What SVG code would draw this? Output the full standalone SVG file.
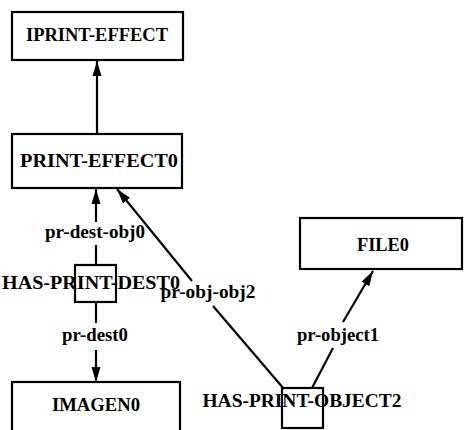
<svg xmlns="http://www.w3.org/2000/svg" width="464" height="430" viewBox="0 0 464 430">
<defs>
<style>
.box{fill:#fff;stroke:#000;stroke-width:2.2}
.sbox{fill:none;stroke:#000;stroke-width:2.2}
.t{font-family:"Liberation Serif","Times New Roman",serif;font-weight:bold;font-size:19px;fill:#000;text-anchor:middle}
.l{font-family:"Liberation Serif","Times New Roman",serif;font-weight:bold;font-size:18px;fill:#000;text-anchor:middle}
.e{stroke:#000;stroke-width:2.2;fill:none}
</style>
<marker id="ah" markerUnits="userSpaceOnUse" markerWidth="16" markerHeight="10" refX="15" refY="5" orient="auto">
<path d="M0,0.5 L15,5 L0,9.5 z" fill="#000"/>
</marker>
</defs>
<rect width="464" height="430" fill="#fff"/>
<g id="connectors">
<line class="e" x1="97" y1="134" x2="97" y2="61" marker-end="url(#ah)"/>
<line class="e" x1="96" y1="222" x2="96" y2="189" marker-end="url(#ah)"/>
<line class="e" x1="96" y1="245" x2="96" y2="265"/>
<line class="e" x1="96" y1="302" x2="96" y2="323"/>
<line class="e" x1="96" y1="350" x2="96" y2="382" marker-end="url(#ah)"/>
<line class="e" x1="192" y1="281" x2="117" y2="189" marker-end="url(#ah)"/>
<line class="e" x1="284" y1="389" x2="213" y2="306"/>
<line class="e" x1="312" y1="388" x2="333" y2="348"/>
<line class="e" x1="343" y1="322" x2="373" y2="271" marker-end="url(#ah)"/>
</g>
<g id="IPRINT-EFFECT">
<rect class="box" x="12" y="12" width="171" height="48"/>
<text class="t" x="97" y="41" textLength="142" lengthAdjust="spacingAndGlyphs">IPRINT-EFFECT</text>
</g>
<g id="PRINT-EFFECT0">
<rect class="box" x="12" y="134" width="170" height="54"/>
<text class="t" x="99" y="167" textLength="158" lengthAdjust="spacingAndGlyphs">PRINT-EFFECT0</text>
</g>
<g id="FILE0">
<rect class="box" x="300" y="218" width="162" height="51"/>
<text class="t" x="383" y="251" textLength="52" lengthAdjust="spacingAndGlyphs">FILE0</text>
</g>
<g id="IMAGEN0">
<rect class="box" x="12" y="382" width="168" height="60"/>
<text class="t" x="96" y="411" textLength="88" lengthAdjust="spacingAndGlyphs">IMAGEN0</text>
</g>
<g id="HAS-PRINT-DEST0">
<rect class="sbox" x="75" y="265" width="41" height="37"/>
<text class="t" x="91" y="289" textLength="178" lengthAdjust="spacingAndGlyphs">HAS-PRINT-DEST0</text>
</g>
<g id="HAS-PRINT-OBJECT2">
<rect class="sbox" x="282" y="388" width="41" height="40"/>
<text class="t" x="302" y="407" textLength="199" lengthAdjust="spacingAndGlyphs">HAS-PRINT-OBJECT2</text>
</g>
<g id="labels">
<text class="l" x="95" y="238" textLength="100" lengthAdjust="spacingAndGlyphs">pr-dest-obj0</text>
<text class="l" x="95" y="341" textLength="66" lengthAdjust="spacingAndGlyphs">pr-dest0</text>
<text class="l" x="208" y="298" textLength="95" lengthAdjust="spacingAndGlyphs">pr-obj-obj2</text>
<text class="l" x="338" y="341" textLength="82" lengthAdjust="spacingAndGlyphs">pr-object1</text>
</g>
</svg>
